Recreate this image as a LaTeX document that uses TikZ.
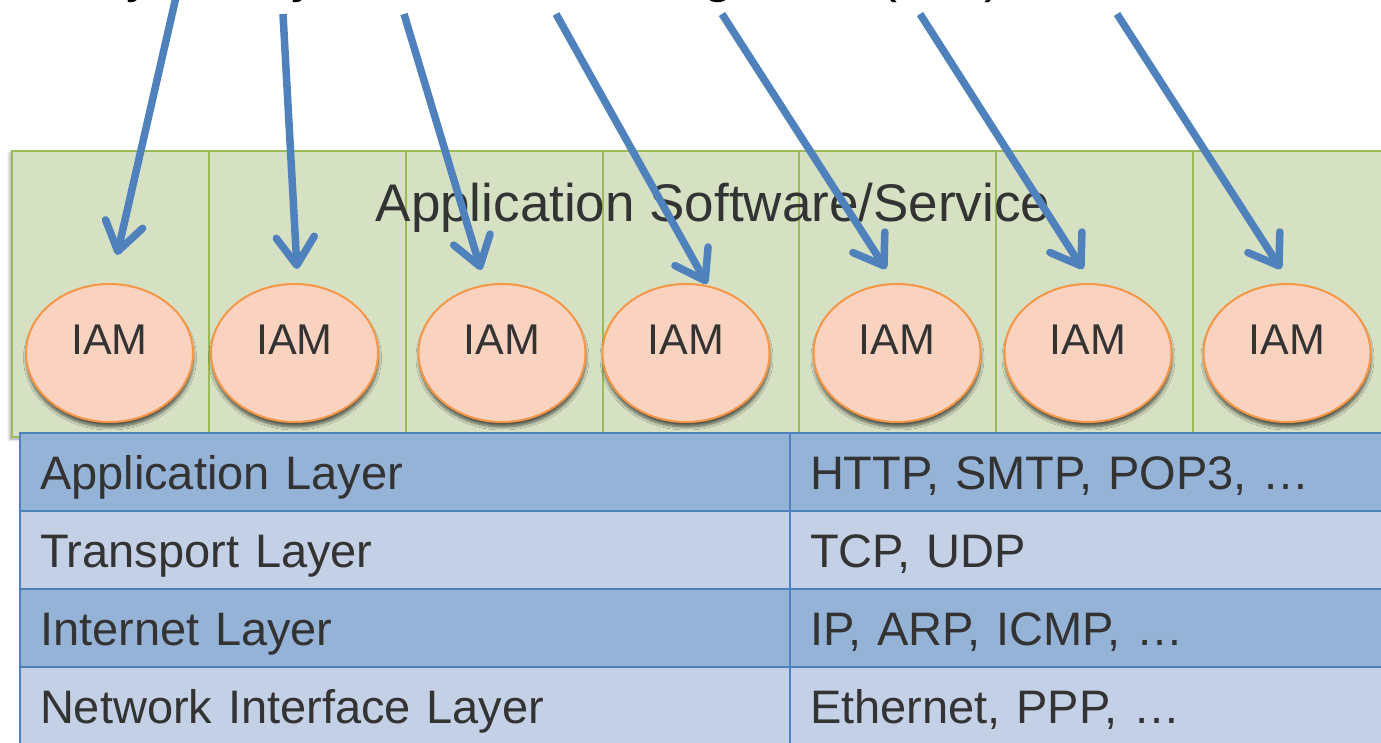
\documentclass[tikz,border=0pt]{standalone}
\usepackage{fontspec}
\setmainfont{Liberation Sans}
\usetikzlibrary{shapes.geometric,arrows.meta,shadows.blur}

\definecolor{bandfill}{HTML}{D6E0C3}
\definecolor{bandline}{HTML}{9BBB59}
\definecolor{iamfill}{HTML}{F9D3BF}
\definecolor{iamline}{HTML}{F79646}
\definecolor{rowdark}{HTML}{95B3D7}
\definecolor{rowlight}{HTML}{C4D0E5}
\definecolor{gridline}{HTML}{4F81BD}
\definecolor{arrowblue}{HTML}{4F81BD}
\definecolor{ink}{HTML}{333333}

\begin{document}
\begin{tikzpicture}[x=1pt,y=-1pt,
  bandcell/.style={draw=bandline, fill=bandfill, line width=2.2pt,
    minimum width=197pt, minimum height=286pt, anchor=north west, inner sep=0pt},
  iam/.style={ellipse, draw=iamline, fill=iamfill, line width=2pt,
    minimum width=167pt, minimum height=138pt, inner sep=0pt, text=ink,
    font=\fontsize{43}{43}\selectfont, text height=22pt, text depth=20pt,
    blur shadow={shadow xshift=0.5pt, shadow yshift=-5pt, shadow opacity=60,
      shadow blur steps=6, shadow blur radius=3pt}},
  cell/.style={draw=gridline, line width=2pt, anchor=north west,
    minimum height=78pt, inner ysep=0pt, align=left, text=ink,
    font=\fontsize{47}{47}\selectfont, text height=34pt, text depth=0pt},
  leftcell/.style={cell, inner xsep=20pt, text width=730pt},
  rightcell/.style={cell, inner xsep=20pt, text width=590pt},
  dark/.style={fill=rowdark},
  light/.style={fill=rowlight},
  heading/.style={text=ink, font=\fontsize{53}{53}\selectfont, inner sep=0pt},
  titlebit/.style={text=black, font=\fontsize{54}{54}\selectfont, inner sep=0pt, anchor=base west},
  arr/.style={draw=arrowblue, line width=7.5pt,
    -{Straight Barb[length=28pt, width=38pt, round]}},
]
\useasboundingbox (0,0) rectangle (1381,743);
\clip (0,0) rectangle (1381,743);

% lower edge of the title line above the picture
\node[titlebit] (tb1) at (126,-8) {y};
\node[titlebit] (tb2) at (291,-8) {y};
\node[titlebit] (tb3) at (703,-8) {g};
\node[titlebit] (tb4) at (879,-8) {(};
\node[titlebit] (tb5) at (984,-8) {)};

% application band, split into seven columns
\path[fill=bandfill, blur shadow={shadow xshift=-1pt, shadow yshift=-3pt,
  shadow opacity=40, shadow blur steps=6, shadow blur radius=3pt}]
  (11,150) rectangle (1389,436);
\foreach \i/\x in {1/11, 2/208, 3/405, 4/602, 5/798, 6/995, 7/1192}
  \node[bandcell] (b\i) at (\x,150) {};

\node[heading, anchor=base] (app) at (713,222) {Application Software/Service};

% IAM modules, one per column
\foreach \i/\x in {1/109.5, 2/294.5, 3/502, 4/686, 5/897, 6/1088, 7/1287}
  \node[iam] (iam\i) at (\x,353) {IAM};

% TCP/IP layer table
\node[leftcell, dark]   (l1) at (19,432) {Application Layer};
\node[rightcell, dark]  (r1) at (789,432) {HTTP, SMTP, POP3, …};
\node[leftcell, light]  (l2) at (19,510) {Transport Layer};
\node[rightcell, light] (r2) at (789,510) {TCP, UDP};
\node[leftcell, dark]   (l3) at (19,588) {Internet Layer};
\node[rightcell, dark]  (r3) at (789,588) {IP, ARP, ICMP, …};
\node[leftcell, light]  (l4) at (19,666) {Network Interface Layer};
\node[rightcell, light] (r4) at (789,666) {Ethernet, PPP, …};

% arrows coming down from the title into each IAM module
\coordinate (s1) at (176,-3);   \coordinate (t1) at (117,255);
\coordinate (s2) at (283,14);   \coordinate (t2) at (297,269);
\coordinate (s3) at (404,14);   \coordinate (t3) at (481,270);
\coordinate (s4) at (556,14);   \coordinate (t4) at (707,284);
\coordinate (s5) at (722,14);   \coordinate (t5) at (886,269);
\coordinate (s6) at (920,14);   \coordinate (t6) at (1083,269);
\coordinate (s7) at (1117,14);  \coordinate (t7) at (1281,269);
\foreach \i in {1,...,7}
  \draw[arr] (s\i) -- (t\i);
\end{tikzpicture}
\end{document}
